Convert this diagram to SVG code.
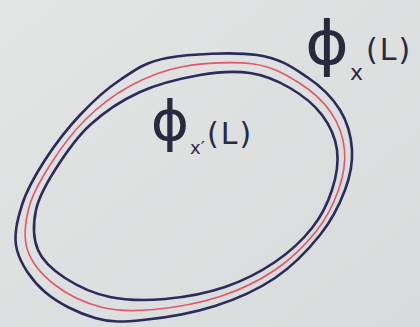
<svg xmlns="http://www.w3.org/2000/svg" width="420" height="327" viewBox="0 0 420 327">
<defs>
<linearGradient id="bg" x1="0" y1="0" x2="1" y2="1">
<stop offset="0" stop-color="#e3e5e5"/>
<stop offset="1" stop-color="#d8dbdb"/>
</linearGradient>
</defs>
<style>
.navy{fill:none;stroke:#2c2b5c;stroke-width:2.6;stroke-linejoin:round}
.red{fill:none;stroke:#e0566a;stroke-width:1.6}
.lbl{font-family:"DejaVu Sans","Liberation Sans",sans-serif;fill:#2a2a3e}
</style>
<rect width="420" height="327" fill="url(#bg)"/>
<g id="outer-set">
<path class="navy" d="M167,58 C189.8,53.8 233.7,51.8 257,55 S293.2,67.8 307,77 S332.5,97.8 340,110 S351.2,136.7 352,150 S350.3,175.8 345,190 S331.7,220.3 320,235 S292.5,266.2 275,278 S237,299 215,306 S163,318 143,320 S111.3,322.7 95,318 S58,303.3 45,292 S20.8,264.5 17,250 S17.3,220 22,205 S35.3,175 45,160 S67.5,128.3 80,115 S105.5,89.5 120,80 S144.2,62.2 167,58 Z"/>
</g>
<g id="boundary">
<path class="red" d="M183.5,66.5 C204,62.8 234.4,61.3 253.5,64 S285.6,74.4 298.5,82.5 S323.4,101.3 331,112.5 S343.3,137.1 344.5,150 S343.3,176.4 338.5,190 S326.6,218.2 316,231.5 S291,259.2 275,270 S240.2,289.9 220,296.5 S173.6,307.7 154,309.5 S119,311.6 102.5,307.5 S67.5,294.6 55,285 S31.8,262.9 27.5,250 S25.3,221.7 29,207.5 S40.7,179.6 50,165 S71.7,133.2 85,120 S113.6,94.9 130,86 S163,70.2 183.5,66.5 Z"/>
</g>
<g id="inner-set">
<path class="navy" d="M200,75 C218.3,71.8 235,70.8 250,73 S278,81 290,88 S314.2,104.7 322,115 S335.3,137.5 337,150 S336.2,177 332,190 S321.5,216 312,228 S289.5,252.2 275,262 S243.3,280.8 225,287 S184.2,297.3 165,299 S126.7,300.5 110,297 S77,285.8 65,278 S42.8,261.3 38,250 S33.2,223.3 36,210 S46,184.2 55,170 S75.8,138 90,125 S121.7,100.3 140,92 S181.7,78.2 200,75 Z"/>
</g>
<g id="label-outer" class="lbl">
<text transform="translate(327,64) scale(1.15,1.05)" font-size="58" text-anchor="middle">ϕ</text>
<text x="350" y="80" font-size="22">x</text>
<text x="366" y="60" font-size="30" letter-spacing="2">(L)</text>
</g>
<g id="label-inner" class="lbl">
<text transform="translate(170,140) scale(1.12,1.05)" font-size="52" text-anchor="middle">ϕ</text>
<text x="190" y="154" font-size="18">x′</text>
<text x="207" y="144" font-size="30" letter-spacing="2">(L)</text>
</g>
</svg>
